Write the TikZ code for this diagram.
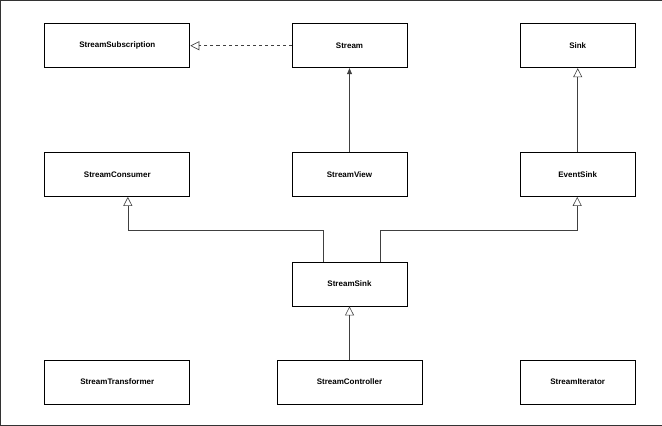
\documentclass[tikz,border=0pt]{standalone}
\usepackage{fontspec}
\setmainfont{Liberation Sans}
\usetikzlibrary{arrows.meta, positioning}
\tikzset{
  cls/.style={draw=black, thick, minimum width=115pt, minimum height=44pt, font=\bfseries\fontsize{8}{9}\selectfont, inner sep=2pt},
  wide/.style={cls, minimum width=145pt},
  inherit/.style={draw=black!75, semithick, -{Triangle[open, length=9pt, width=9pt]}},
  realize/.style={inherit, dashed},
  uses/.style={draw=black!75, semithick, -{Triangle[length=6pt, width=5pt]}}
}
\begin{document}
\begin{tikzpicture}[x=1pt, y=-1pt]
  \draw[black!80] (0.5,0.5) rectangle (661.5,425.5);
  \node (sub) [wide] at (117.5,46) {StreamSubscription};
  \node (stream) [cls] at (349.5,46) {Stream};
  \node (sink) [cls] at (577.5,46) {Sink};
  \node (consumer) [wide] at (117.5,175) {StreamConsumer};
  \node (view) [cls] at (349.5,175) {StreamView};
  \node (esink) [cls] at (577.5,175) {EventSink};
  \node (ssink) [cls] at (349.5,284) {StreamSink};
  \node (trans) [wide] at (117.5,382) {StreamTransformer};
  \node (ctrl) [wide] at (349.5,382) {StreamController};
  \node (iter) [cls] at (577.5,382) {StreamIterator};

  \draw[realize] (stream) -- (sub);
  \draw[uses] (view) -- (stream);
  \draw[inherit] (esink) -- (sink);
  \draw[inherit] (ssink.north west) ++(32,0) |- (128,230) -- (128,197);
  \draw[inherit] (ssink.north east) ++(-27,0) |- (577,230) -- (577,197);
  \draw[inherit] (ctrl) -- (ssink);
\end{tikzpicture}
\end{document}
